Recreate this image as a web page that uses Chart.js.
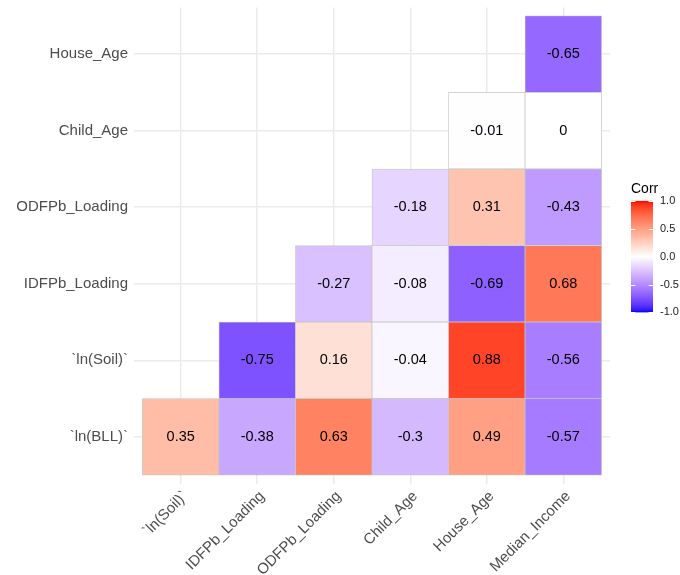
<!DOCTYPE html>
<html>
<head>
<meta charset="utf-8">
<title>Correlation matrix</title>
<script src="https://cdn.jsdelivr.net/npm/chart.js@4.4.1/dist/chart.umd.min.js"></script>
<style>
  html, body { margin: 0; padding: 0; background: #ffffff; }
  #wrap { position: relative; width: 680px; height: 575px; }
  #main { position: absolute; left: 0; top: 0; }
  #bar { position: absolute; left: 631px; top: 181px; }
</style>
</head>
<body>
<div id="wrap">
  <canvas id="main" width="680" height="575"></canvas>
  <canvas id="bar" width="50" height="145"></canvas>
</div>
<script>
// Variables along the x axis (left to right)
const columnLabels = ['`ln(Soil)`', 'IDFPb_Loading', 'ODFPb_Loading', 'Child_Age', 'House_Age', 'Median_Income'];
// Variables along the y axis (bottom to top)
const rowLabels = ['`ln(BLL)`', '`ln(Soil)`', 'IDFPb_Loading', 'ODFPb_Loading', 'Child_Age', 'House_Age'];

// Correlation coefficients, one array per row, one entry per column (null = not shown)
const corrBLL       = [0.35, -0.38, 0.63, -0.3, 0.49, -0.57];
const corrSoil      = [null, -0.75, 0.16, -0.04, 0.88, -0.56];
const corrIDFPb     = [null, null, -0.27, -0.08, -0.69, 0.68];
const corrODFPb     = [null, null, null, -0.18, 0.31, -0.43];
const corrChildAge  = [null, null, null, null, -0.01, 0];
const corrHouseAge  = [null, null, null, null, null, -0.65];
const corrRows = [corrBLL, corrSoil, corrIDFPb, corrODFPb, corrChildAge, corrHouseAge];

// Colour bar
const legendLimits = [-1, 1];
const legendTicks = [-1, -0.5, 0, 0.5, 1];

const FONT = '"Liberation Sans", Arial, Helvetica, sans-serif';

// ---- blue / white / red diverging scale, interpolated in CIELAB ----
function toLin(c) { c /= 255; return c <= 0.04045 ? c / 12.92 : Math.pow((c + 0.055) / 1.055, 2.4); }
function fromLin(c) {
  const v = c <= 0.0031308 ? 12.92 * c : 1.055 * Math.pow(c, 1 / 2.4) - 0.055;
  return Math.round(Math.min(1, Math.max(0, v)) * 255);
}
const REF = [0.95047, 1.0, 1.08883];
function rgbToLab(rgb) {
  const r = toLin(rgb[0]), g = toLin(rgb[1]), b = toLin(rgb[2]);
  const X = (0.4124564 * r + 0.3575761 * g + 0.1804375 * b) / REF[0];
  const Y = (0.2126729 * r + 0.7151522 * g + 0.0721750 * b) / REF[1];
  const Z = (0.0193339 * r + 0.1191920 * g + 0.9503041 * b) / REF[2];
  const f = t => t > 0.008856 ? Math.cbrt(t) : 7.787 * t + 16 / 116;
  const fx = f(X), fy = f(Y), fz = f(Z);
  return [116 * fy - 16, 500 * (fx - fy), 200 * (fy - fz)];
}
function labToRgb(lab) {
  const fy = (lab[0] + 16) / 116, fx = fy + lab[1] / 500, fz = fy - lab[2] / 200;
  const inv = t => { const t3 = t * t * t; return t3 > 0.008856 ? t3 : (t - 16 / 116) / 7.787; };
  const X = inv(fx) * REF[0], Y = inv(fy) * REF[1], Z = inv(fz) * REF[2];
  const r = 3.2404542 * X - 1.5371385 * Y - 0.4985314 * Z;
  const g = -0.9692660 * X + 1.8760108 * Y + 0.0415560 * Z;
  const b = 0.0556434 * X - 0.2040259 * Y + 1.0572252 * Z;
  return [fromLin(r), fromLin(g), fromLin(b)];
}
const LAB_LOW = rgbToLab([0, 0, 255]);
const LAB_MID = rgbToLab([255, 255, 255]);
const LAB_HIGH = rgbToLab([255, 0, 0]);
function corrColor(v) {
  const t = Math.min(1, Math.abs(v));
  const end = v < 0 ? LAB_LOW : LAB_HIGH;
  const lab = LAB_MID.map((m, i) => m + (end[i] - m) * t);
  const c = labToRgb(lab);
  return 'rgb(' + c[0] + ',' + c[1] + ',' + c[2] + ')';
}

// ---- heat map: one floating-bar dataset per row ----
const datasets = corrRows.map((row, r) => ({
  label: rowLabels[r],
  data: row.map((v, c) => v === null ? null : { x: c + 0.5, y: [r, r + 1], corr: v }).filter(d => d !== null),
  backgroundColor: ctx => ctx.raw ? corrColor(ctx.raw.corr) : 'transparent',
  borderColor: '#c4c4c4',
  borderWidth: 0.75,
  borderSkipped: false,
  grouped: false,
  barPercentage: 1,
  categoryPercentage: 1
}));

// Writes each coefficient in the middle of its cell
const cellLabels = {
  id: 'cellLabels',
  afterDatasetsDraw(chart) {
    const ctx = chart.ctx;
    ctx.save();
    ctx.font = '14.5px ' + FONT;
    ctx.fillStyle = '#000000';
    ctx.textAlign = 'center';
    ctx.textBaseline = 'middle';
    chart.data.datasets.forEach((ds, i) => {
      chart.getDatasetMeta(i).data.forEach((el, j) => {
        const p = el.getCenterPoint();
        ctx.fillText(String(ds.data[j].corr), p.x, p.y);
      });
    });
    ctx.restore();
  }
};

new Chart(document.getElementById('main'), {
  type: 'bar',
  data: { datasets },
  options: {
    responsive: false,
    animation: false,
    layout: { padding: { left: 0, right: 70, top: 7.5, bottom: 0 } },
    plugins: { legend: { display: false }, tooltip: { enabled: false } },
    scales: {
      x: {
        type: 'linear',
        offset: false,
        min: -0.11,
        max: columnLabels.length + 0.11,
        afterBuildTicks: s => { s.ticks = columnLabels.map((_, i) => ({ value: i + 0.5 })); },
        afterFit: s => { s.height = 91.5; s.paddingLeft = 0; s.paddingRight = 0; },
        ticks: {
          callback: (v, i) => columnLabels[i],
          autoSkip: false,
          minRotation: 45,
          maxRotation: 45,
          padding: 4,
          labelOffset: 5,
          color: '#4d4d4d',
          font: { family: FONT, size: 15 }
        },
        grid: { color: '#ebebeb', lineWidth: 1.5, drawTicks: false, offset: false },
        border: { display: false }
      },
      y: {
        type: 'linear',
        min: -0.11,
        max: rowLabels.length + 0.11,
        afterBuildTicks: s => { s.ticks = rowLabels.map((_, i) => ({ value: i + 0.5 })); },
        afterFit: s => { s.width = 134; s.paddingTop = 0; s.paddingBottom = 0; },
        ticks: {
          callback: (v, i) => rowLabels[i],
          padding: 6,
          color: '#4d4d4d',
          font: { family: FONT, size: 15 }
        },
        grid: { color: '#ebebeb', lineWidth: 1.5, drawTicks: false },
        border: { display: false }
      }
    }
  },
  plugins: [cellLabels]
});

// ---- colour bar ----
const barTicks = {
  id: 'barTicks',
  afterDatasetsDraw(chart) {
    const { ctx, chartArea: a } = chart;
    const y = chart.scales.y;
    const len = (a.right - a.left) / 5;
    ctx.save();
    ctx.strokeStyle = '#ffffff';
    ctx.lineWidth = 1;
    legendTicks.forEach(v => {
      const py = Math.round(y.getPixelForValue(v)) + 0.5;
      ctx.beginPath();
      ctx.moveTo(a.left, py); ctx.lineTo(a.left + len, py);
      ctx.moveTo(a.right - len, py); ctx.lineTo(a.right, py);
      ctx.stroke();
    });
    ctx.restore();
  }
};

new Chart(document.getElementById('bar'), {
  type: 'bar',
  data: {
    labels: ['Corr'],
    datasets: [{
      data: [legendLimits],
      backgroundColor: ctx => {
        const chart = ctx.chart;
        if (!chart.chartArea) return 'transparent';
        const y = chart.scales.y;
        const g = chart.ctx.createLinearGradient(0, y.getPixelForValue(legendLimits[0]), 0, y.getPixelForValue(legendLimits[1]));
        for (let i = 0; i <= 40; i++) {
          const v = legendLimits[0] + (legendLimits[1] - legendLimits[0]) * i / 40;
          g.addColorStop(i / 40, corrColor(v));
        }
        return g;
      },
      borderWidth: 0,
      barPercentage: 1,
      categoryPercentage: 1
    }]
  },
  options: {
    responsive: false,
    animation: false,
    layout: { padding: { left: 0, right: 0, top: 0, bottom: 7 } },
    plugins: {
      legend: { display: false },
      tooltip: { enabled: false },
      title: {
        display: true,
        text: 'Corr',
        align: 'start',
        color: '#000000',
        font: { family: FONT, size: 14, weight: 'normal' },
        padding: { top: 0, bottom: 3 }
      }
    },
    scales: {
      x: { display: false },
      y: {
        position: 'right',
        min: legendLimits[0],
        max: legendLimits[1],
        afterBuildTicks: s => { s.ticks = legendTicks.map(v => ({ value: v })); },
        afterFit: s => { s.width = 28; },
        ticks: {
          callback: v => Number(v).toFixed(1),
          padding: 7,
          color: '#1a1a1a',
          font: { family: FONT, size: 11 }
        },
        grid: { display: false, drawTicks: false },
        border: { display: false }
      }
    }
  },
  plugins: [barTicks]
});
</script>
</body>
</html>
